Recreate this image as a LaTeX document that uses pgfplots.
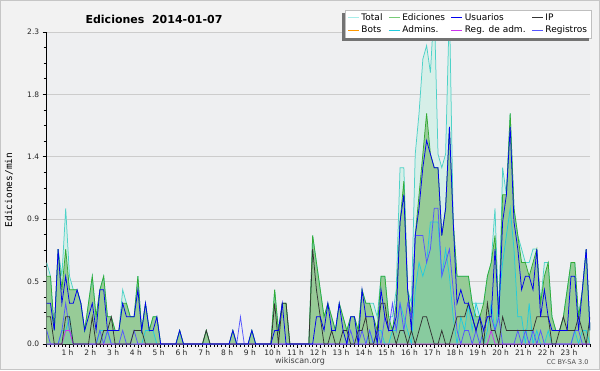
\documentclass[border=0pt]{standalone}
\usepackage{pgfplots}
\pgfplotsset{compat=1.18}
\usepackage{pgfplotstable}
\usepackage{fontspec}
\setmainfont{DejaVu Sans}
\newfontfamily\monofont{DejaVu Sans Mono}

\definecolor{bgout}{HTML}{F2F2F2}
\definecolor{bgplot}{HTML}{EEEFF1}
\definecolor{ctotal}{HTML}{4DD2C8}
\definecolor{ctotalleg}{HTML}{A8EEEA}
\definecolor{ctotalfill}{HTML}{D6EFE8}
\definecolor{cedit}{HTML}{33AA33}
\definecolor{ceditleg}{HTML}{77CC77}
\definecolor{ceditfill}{HTML}{97CB97}
\definecolor{cuser}{HTML}{0000EE}
\definecolor{cip}{HTML}{333333}
\definecolor{cbot}{HTML}{FF9900}
\definecolor{cadmin}{HTML}{22CCDD}
\definecolor{cregadm}{HTML}{CC33EE}
\definecolor{creg}{HTML}{5555FF}

\pgfplotsset{
  layers/mylayers/.define layer set={axis background,axis grid,main,axis ticks,axis lines,axis tick labels,axis descriptions,axis foreground}{},
}

\pgfplotstableread{
i T E U P A R M
0 0.6 0.5 0.3 0.2 0 0.1 0
1 0.5 0.5 0.3 0.2 0 0 0
2 0.1 0.1 0.1 0 0 0 0
3 0.7 0.7 0.7 0 0 0 0
4 0.5 0.4 0.3 0 0.1 0.1 0
5 1.0 0.7 0.5 0.2 0.1 0.3 0.1
6 0.5 0.4 0.3 0.2 0.2 0.1 0.1
7 0.4 0.4 0.3 0 0 0 0
8 0.4 0.4 0.4 0 0 0 0
9 0.3 0.3 0.3 0 0 0 0
10 0.1 0.1 0.1 0 0 0 0
11 0.3 0.3 0.2 0 0 0 0
12 0.5 0.5 0.3 0.2 0 0 0
13 0.2 0.2 0.1 0 0 0 0
14 0.4 0.4 0.4 0 0.1 0.1 0
15 0.5 0.5 0.4 0.1 0.1 0 0
16 0.2 0.2 0.1 0.1 0.1 0.1 0
17 0.2 0.2 0.1 0.2 0 0 0
18 0.1 0.1 0.1 0 0 0 0
19 0.1 0.1 0.1 0 0 0 0
20 0.4 0.3 0.3 0 0 0.1 0
21 0.3 0.3 0.2 0 0 0 0
22 0.2 0.2 0.2 0 0 0 0
23 0.2 0.2 0.2 0.1 0 0.1 0
24 0.5 0.5 0.4 0.1 0 0 0
25 0.1 0.1 0.1 0.1 0 0 0
26 0.3 0.3 0.3 0 0.1 0 0
27 0.1 0.1 0.1 0 0.1 0 0
28 0.2 0.2 0.1 0 0.1 0 0
29 0.2 0.2 0.2 0 0 0 0
30 0 0 0 0 0 0 0
31 0 0 0 0 0 0 0
32 0 0 0 0 0 0 0
33 0 0 0 0 0 0 0
34 0 0 0 0 0 0 0
35 0.1 0.1 0.1 0 0 0 0
36 0 0 0 0 0 0 0
37 0 0 0 0 0 0 0
38 0 0 0 0 0 0 0
39 0 0 0 0 0 0 0
40 0 0 0 0 0 0 0
41 0 0 0 0 0 0 0
42 0.1 0.1 0 0.1 0 0 0
43 0 0 0 0 0 0 0
44 0 0 0 0 0 0 0
45 0 0 0 0 0 0 0
46 0 0 0 0 0 0 0
47 0 0 0 0 0 0 0
48 0 0 0 0 0 0 0
49 0.1 0.1 0.1 0 0 0 0
50 0 0 0 0 0 0 0
51 0 0 0 0 0 0.2 0
52 0 0 0 0 0 0 0
53 0 0 0 0 0 0 0
54 0.1 0.1 0.1 0 0 0 0
55 0 0 0 0 0 0 0
56 0 0 0 0 0 0 0
57 0 0 0 0 0 0 0
58 0 0 0 0 0 0 0
59 0 0 0 0 0 0 0
60 0.4 0.4 0.1 0.3 0 0 0
61 0.1 0.1 0.1 0 0 0 0
62 0.3 0.3 0.3 0.3 0 0 0
63 0.3 0.3 0 0.3 0 0 0
64 0 0 0 0 0 0 0
65 0 0 0 0 0 0 0
66 0 0 0 0 0 0 0
67 0 0 0 0 0 0 0
68 0 0 0 0 0 0 0
69 0 0 0 0 0 0 0
70 0.8 0.8 0 0.7 0 0 0
71 0.6 0.6 0.2 0.4 0 0 0
72 0.4 0.4 0.2 0.2 0 0 0
73 0.2 0.2 0.1 0 0 0 0
74 0.3 0.3 0.3 0 0 0 0
75 0.2 0.2 0.1 0.1 0 0 0
76 0.1 0.1 0.1 0 0 0 0
77 0.3 0.3 0.3 0 0 0 0
78 0.2 0.2 0.1 0.1 0 0 0
79 0.1 0.1 0 0.1 0 0 0
80 0.2 0.2 0.2 0 0 0.1 0
81 0.2 0.2 0.2 0 0 0 0
82 0.1 0.1 0 0.1 0 0 0
83 0.4 0.4 0.4 0.1 0 0.1 0
84 0.3 0.3 0.2 0.2 0 0 0
85 0.3 0.3 0.2 0 0.1 0.1 0
86 0.3 0.2 0.2 0 0 0 0
87 0.2 0.1 0 0.1 0.1 0.1 0
88 0.5 0.5 0.4 0.3 0.1 0 0
89 0.5 0.5 0.2 0.3 0 0.2 0
90 0.2 0.2 0.1 0.1 0 0.1 0
91 0.2 0.1 0.1 0.1 0.1 0.3 0
92 0.4 0.3 0.2 0 0.1 0.1 0
93 1.3 0.9 0.9 0.1 0.3 0.3 0
94 1.3 1.2 1.1 0.1 0.2 0.1 0
95 0.4 0.4 0.4 0 0.1 0.3 0
96 0.3 0.2 0.1 0.1 0 0.2 0
97 1.4 0.8 0.8 0 0.4 0.8 0
98 1.7 1.1 1.0 0.1 0.6 0.8 0
99 2.1 1.4 1.3 0.2 0.5 0.8 0
100 2.2 1.7 1.5 0.2 0.6 0.6 0
101 2.0 1.4 1.4 0.1 0.9 0.7 0
102 2.5 1.3 1.3 0 0.9 1.0 0
103 1.4 1.3 1.3 0 0.9 1.0 0
104 1.3 0.8 0.8 0.1 0.5 0.5 0
105 1.4 1.0 1.0 0 0.7 0.6 0
106 2.5 1.6 1.6 0 0.5 0.7 0
107 0.9 0.9 0.9 0.1 0.2 0.4 0
108 0.5 0.5 0.3 0.2 0 0.1 0
109 0.5 0.5 0.4 0.2 0.2 0 0
110 0.5 0.5 0.3 0.2 0.1 0.1 0
111 0.5 0.5 0.3 0.3 0.3 0.1 0
112 0.3 0.3 0.2 0.2 0.1 0 0
113 0.3 0.2 0.1 0.1 0.3 0.1 0
114 0.3 0.2 0.2 0.2 0.2 0 0
115 0.3 0.3 0.1 0 0 0.1 0
116 0.5 0.5 0.2 0.3 0.1 0.2 0
117 0.6 0.6 0.2 0.1 0.3 0.2 0.1
118 1.0 0.8 0.7 0.1 0.1 0.1 0
119 0.2 0.2 0.2 0 0.3 0.2 0
120 1.3 1.1 0.9 0.2 0.6 0 0
121 1.1 1.1 1.1 0.1 0.8 0 0
122 1.7 1.7 1.6 0.1 1.0 0 0
123 1.0 1.0 0.9 0.1 0.7 0 0
124 0.8 0.8 0.7 0.1 0.2 0.1 0
125 0.7 0.6 0.4 0.1 0.2 0 0
126 0.6 0.6 0.5 0.1 0 0.1 0
127 0.6 0.5 0.5 0.1 0.3 0 0
128 0.7 0.6 0.4 0.1 0 0.1 0
129 0.7 0.7 0.7 0.2 0.1 0 0
130 0.3 0.3 0.2 0.2 0 0.1 0
131 0.6 0.5 0.4 0.2 0 0 0
132 0.6 0.6 0.2 0.2 0.1 0 0
133 0.2 0.2 0.1 0 0 0 0
134 0.1 0.1 0.1 0 0 0 0
135 0.1 0.1 0.1 0.1 0 0 0
136 0.2 0.2 0.1 0.2 0 0 0
137 0.4 0.4 0.1 0.1 0 0 0
138 0.6 0.6 0.5 0.1 0 0 0
139 0.6 0.6 0.5 0.1 0.1 0.1 0
140 0.2 0.2 0.1 0.2 0 0.1 0
141 0.4 0.4 0.4 0.1 0.1 0 0
142 0.7 0.7 0.7 0 0.1 0 0
143 0.1 0.1 0.1 0.2 0 0 0
}\data

\begin{document}
\begin{tikzpicture}[x=1pt,y=1pt]
\fill[bgout] (0,0) rectangle (600,370);
\draw[gray!45, line width=0.8pt] (0.4,0.4) rectangle (599.6,369.6);
\begin{axis}[
  set layers=mylayers,
  at={(46.7pt,26pt)}, anchor=south west,
  scale only axis, width=543.3pt, height=312pt,
  xmin=0, xmax=23.8333, ymin=0, ymax=2.3,
  axis x line*=bottom, axis y line*=left,
  axis line style={black, line width=0.9pt, -},
  tick align=outside,
  xtick={1,...,23},
  xticklabels={1 h,2 h,3 h,4 h,5 h,6 h,7 h,8 h,9 h,10 h,11 h,12 h,13 h,14 h,15 h,16 h,17 h,18 h,19 h,20 h,21 h,22 h,23 h},
  minor xtick={0,0.166667,...,23.9},
  ytick={0,0.46,0.92,1.38,1.84,2.3},
  yticklabels={0.0,0.5,0.9,1.4,1.8,2.3},
  minor ytick={0.115,0.23,...,2.3},
  ymajorgrids, grid style={black!20, line width=0.7pt},
  major tick length=4pt, minor tick length=3pt,
  tick style={black, line width=0.7pt},
  xticklabel style={font=\fontsize{7.5}{8}\selectfont, text=black!85, xshift=-2pt, yshift=1.5pt},
  yticklabel style={font=\fontsize{7.5}{8}\selectfont, text=black!85},
  axis background/.style={fill=bgplot},
  legend columns=4,
  legend cell align=left,
  legend style={at={(1.003,1.0705)}, anchor=north east, draw=black!25, fill=white,
    font=\fontsize{9}{10}\selectfont, inner xsep=2.5pt, inner ysep=1.5pt,
    /tikz/every even column/.append style={column sep=4pt}},
  legend image code/.code={\draw[#1] (0pt,0pt) -- (11pt,0pt);},
  every axis plot/.append style={line width=0.75pt},
]
% fills
\addplot[fill=ctotalfill, draw=none, forget plot] table[x expr=\thisrow{i}/6, y=T] {\data} \closedcycle;
\addplot[fill=ceditfill, draw=none, forget plot] table[x expr=\thisrow{i}/6, y=E] {\data} \closedcycle;
\addplot[fill=cadmin, fill opacity=0.12, draw=none, forget plot] table[x expr=\thisrow{i}/6, y=A] {\data} \closedcycle;
% lines
\addplot[ctotal, forget plot] table[x expr=\thisrow{i}/6, y=T] {\data};
\addplot[cedit, forget plot] table[x expr=\thisrow{i}/6, y=E] {\data};
\addplot[cadmin, forget plot] table[x expr=\thisrow{i}/6, y=A] {\data};
\addplot[creg, forget plot] table[x expr=\thisrow{i}/6, y=R] {\data};
\addplot[cregadm, forget plot] table[x expr=\thisrow{i}/6, y=M] {\data};
\addplot[cip, forget plot] table[x expr=\thisrow{i}/6, y=P] {\data};
\addplot[cuser, forget plot] table[x expr=\thisrow{i}/6, y=U] {\data};
% legend
\addlegendimage{ctotalleg, line width=0.8pt}\addlegendentry{Total}
\addlegendimage{ceditleg, line width=0.8pt}\addlegendentry{Ediciones}
\addlegendimage{cuser, line width=0.8pt}\addlegendentry{Usuarios}
\addlegendimage{cip, line width=0.8pt}\addlegendentry{IP}
\addlegendimage{cbot, line width=0.8pt}\addlegendentry{Bots}
\addlegendimage{cadmin, line width=0.8pt}\addlegendentry{Admins.}
\addlegendimage{cregadm, line width=0.8pt}\addlegendentry{Reg. de adm.}
\addlegendimage{creg, line width=0.8pt}\addlegendentry{Registros}
\end{axis}
% legend shadow (left and bottom strips)
\fill[black!55] (341.5,328.7) rectangle (344.5,357);
\fill[black!55] (341.5,328.7) rectangle (588.7,331.7);
\node[font=\fontsize{11}{12}\selectfont\bfseries] at (154,351) {Ediciones\ \ 2014-01-07};
\node[rotate=90, font=\monofont\fontsize{9.5}{10}\selectfont] at (9,180) {Ediciones/min};
\node[font=\fontsize{8}{9}\selectfont, text=black!75] at (300,9) {wikiscan.org};
\node[font=\fontsize{6.5}{7}\selectfont, text=black!70, anchor=east] at (592,8) {CC BY-SA 3.0};
\pgfresetboundingbox
\useasboundingbox (0,0) rectangle (600,370);
\end{tikzpicture}
\end{document}
